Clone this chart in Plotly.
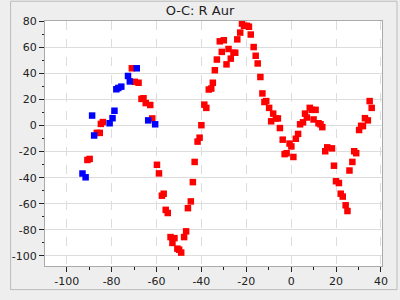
import plotly.graph_objects as go

red_x = [-90.8, -89.8, -86.6, -85.3, -84.8, -83.9, -71.0, -69.7, -68.0, -66.7, -65.8, -64.8, -62.8, -61.9,
         -59.8, -58.9, -57.6, -56.8, -55.9, -55.0, -53.75, -52.9, -52.0, -50.7, -49.9, -49.0, -47.7, -46.8,
         -46.0, -44.7, -43.8, -43.0, -41.7, -40.8, -40.0, -38.7, -37.8, -36.7, -35.6, -34.9, -34.0,
         -33.1, -31.8, -30.9, -30.0, -28.8, -27.9, -26.9, -25.7, -24.9, -24.0, -22.7, -21.9, -21.0, -19.7, -18.8,
         -18.0, -16.7, -15.8, -14.9, -13.7, -12.8, -11.9, -11.1, -9.8, -8.9, -8.0, -6.8, -5.9,
         -5.0, -3.75, -2.9, -2.0, -0.7, 0.1, 1.0, 2.1, 3.1, 4.0, 5.3, 6.2, 7.0, 8.3, 9.2, 10.9, 10.0,
         12.2, 13.1, 13.9, 15.2, 16.1, 18.2, 19.1, 20.0, 21.3, 22.1, 23.0, 24.3, 25.1, 26.0, 27.3, 28.1, 29.0,
         30.3, 31.2, 32.0, 32.9, 34.2, 35.0, 35.9]
red_y = [-26.4, -25.6, -5.6, -5.6, 1.3, 2.7, 44.0, 33.6, 32.9, 20.5, 21.0, 17.3, 15.8, 5.5,
         -30.1, -36.7, -53.8, -52.3, -64.7, -67.1, -85.6, -90.1, -86.4, -94.5, -95.3, -97.5, -85.6, -81.2,
         -63.4, -58.2, -43.4, -27.9, -12.3, -9.3, 0.3, 16.1, 13.6, 27.7, 28.4, 32.9, 42.5,
         50.7, 64.7, 56.6, 65.5, 47.0, 58.8, 51.4, 55.9, 55.9, 66.2, 71.4, 78.3, 76.6, 76.6, 75.9,
         69.9, 60.3, 53.6, 47.7, 37.3, 24.7, 18.1, 18.8, 13.6, 3.3, 9.2, 5.5, 5.5,
         -1.9, -10.8, -21.9, -21.2, -13.8, -16.0, -24.1, -10.1, -6.4, 1.0, 2.5, 9.2, 6.2, 13.6, 12.1, 12.1, 4.7,
         1.8, 1.0, -1.2, -19.7, -16.7, -17.5, -30.8, -42.7, -44.1, -52.3, -54.5, -61.2, -65.6, -34.5, -27.9, -19.7, -21.2,
         -3.4, -0.2, -0.4, 5.7, 4.0, 18.8, 13.6]

blue_x = [-93.0, -91.6, -88.7, -87.8, -80.9, -79.6, -78.75, -77.9, -77.0, -75.7, -72.7, -71.9, -68.8, -63.7, -60.6]
blue_y = [-36.8, -39.7, 7.7, -7.6, 1.8, 5.7, 11.4, 27.9, 28.9, 29.9, 38.1, 33.9, 44.0, 4.0, 1.0]

x_ticks = [-100, -80, -60, -40, -20, 0, 20, 40]
x_labels = ["-100", "-80", "-60", "-40", "-20", "0", "20", "40"]
y_ticks = [-100, -80, -60, -40, -20, 0, 20, 40, 60, 80]
y_labels = ["-100", "-80", "-60", "-40", "-20", "0", "20", "40", "60", "80"]

fig = go.Figure()
fig.add_trace(go.Scatter(x=red_x, y=red_y, mode="markers",
                         marker=dict(symbol="square", size=6.5, color="#ff0000", line=dict(width=0))))
fig.add_trace(go.Scatter(x=blue_x, y=blue_y, mode="markers",
                         marker=dict(symbol="square", size=6.5, color="#0000ff", line=dict(width=0))))

L, R, T, B = 36, 16, 21, 25
pw, ph = 400 - L - R, 300 - T - B

fig.update_layout(
    width=400, height=300,
    margin=dict(l=L, r=R, t=T, b=B),
    paper_bgcolor="#eeeeee", plot_bgcolor="#ffffff",
    showlegend=False,
    font=dict(family="DejaVu Sans", size=11, color="#222222"),
    title=dict(text="O-C: R Aur", x=0.5, xanchor="center", y=1 - 10.5 / 300, yanchor="middle",
               font=dict(family="DejaVu Sans", size=13, color="#222222")),
    xaxis=dict(range=[-109.7, 40.5], tickvals=x_ticks, ticktext=x_labels,
               showgrid=True, gridcolor="#dddddd", griddash="dash", gridwidth=1,
               zeroline=False, showline=True, linecolor="#aaaaaa", mirror=True,
               ticks="outside", ticklen=5, tickcolor="#222222",
               minor=dict(dtick=10, tick0=0, ticks="outside", ticklen=3, tickcolor="#222222", showgrid=False)),
    yaxis=dict(range=[-107.8, 80.3], tickvals=y_ticks, ticktext=y_labels,
               showgrid=True, gridcolor="#dddddd", gridwidth=1,
               zeroline=False, showline=True, linecolor="#aaaaaa", mirror=True,
               ticks="outside", ticklen=5, tickcolor="#222222",
               minor=dict(dtick=10, tick0=0, ticks="outside", ticklen=2, tickcolor="#222222", showgrid=False)),
    shapes=[dict(type="rect", xref="paper", yref="paper",
                 x0=(0.5 - L) / pw, x1=(399.5 - L) / pw,
                 y0=(ph + T - 299.5) / ph, y1=(ph + T - 0.5) / ph,
                 line=dict(color="#bbbbbb", width=1), fillcolor="rgba(0,0,0,0)", layer="below")],
)

fig.write_html("out.html")
